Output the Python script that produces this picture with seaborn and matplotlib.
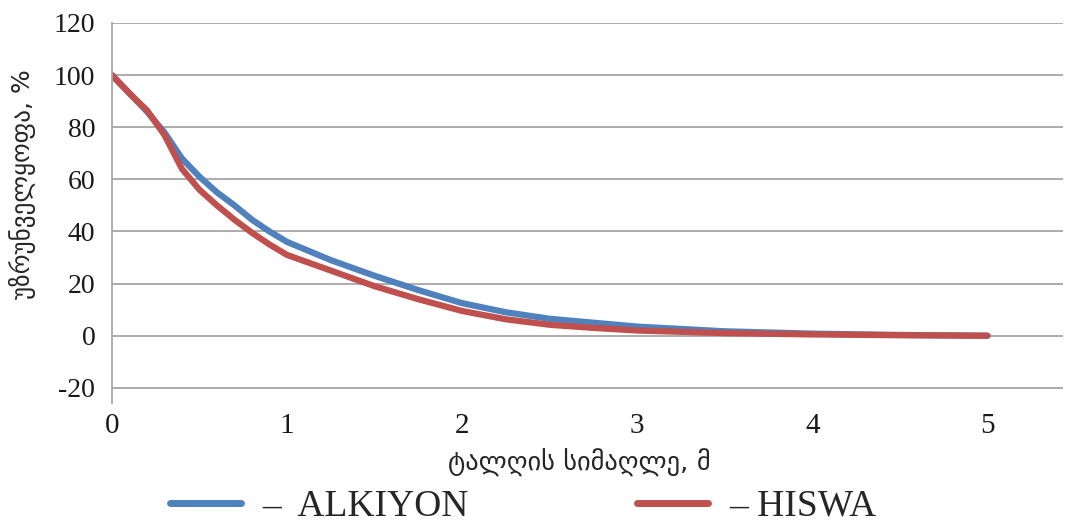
import numpy as np
import pandas as pd
import matplotlib
matplotlib.use("Agg")
import matplotlib.pyplot as plt
import seaborn as sns

# wave height (m) and supply (%)
height = [0, 0.1, 0.2, 0.3, 0.4, 0.5, 0.6, 0.7, 0.8, 0.9, 1, 1.25, 1.5, 1.75,
          2, 2.25, 2.5, 2.75, 3, 3.5, 4, 4.5, 5]
alkiyon = [100, 93, 86, 78, 68, 61, 55, 50, 44.5, 40, 36, 29, 23, 17.5,
           12.5, 9, 6.5, 5, 3.5, 1.7, 0.8, 0.3, 0]
hiswa = [100, 93, 86.5, 77, 64, 56, 50, 44.5, 39.5, 35, 31, 25, 19, 14,
         9.5, 6.3, 4.2, 3, 2, 1, 0.5, 0.2, 0]
series = ["–  ALKIYON", "– HISWA"]
colors = ["#4F81BD", "#C0504D"]

df = pd.concat([
    pd.DataFrame({"x": height, "y": alkiyon, "model": series[0]}),
    pd.DataFrame({"x": height, "y": hiswa, "model": series[1]}),
])

sns.set_style("white")
serif = ["Liberation Serif", "DejaVu Serif", "DejaVu Sans"]
plt.rcParams["font.family"] = serif
plt.rcParams["axes.unicode_minus"] = False

fig = plt.figure(figsize=(10.66, 5.22), dpi=100)
ax = fig.add_axes([0.105, 0.228, 0.892, 0.728])

sns.lineplot(data=df, x="x", y="y", hue="model", palette=colors,
             linewidth=4.5, ax=ax, legend=False, sort=False,
             solid_capstyle="round", solid_joinstyle="round")

ax.set_xlim(0, 5.43)
ax.set_ylim(-25.8, 120)
ax.set_yticks(range(-20, 121, 20))
ax.set_xticks(range(0, 6))
ax.yaxis.grid(True, color="#a6a6a6", linewidth=1.3)
ax.xaxis.grid(False)
for s in ["top", "right", "bottom"]:
    ax.spines[s].set_visible(False)
ax.spines["left"].set_color("#a6a6a6")
ax.spines["left"].set_linewidth(1.3)
ax.tick_params(axis="y", length=0, pad=12, labelsize=20, colors="#1a1a1a")
ax.tick_params(axis="x", length=0, pad=7, labelsize=21, colors="#1a1a1a")

ax.set_xlabel("ტალღის სიმაღლე, მ", fontsize=19, family=["DejaVu Sans"])
ax.xaxis.set_label_coords(0.492, -0.12)
ax.set_ylabel("უზრუნველყოფა, %", fontsize=18, family=["DejaVu Sans"])
ax.yaxis.set_label_coords(-0.08, 0.575)

handles = [plt.Line2D([], [], color=c, linewidth=5, solid_capstyle="round") for c in colors]
fig.legend(handles, series, loc="lower left", bbox_to_anchor=(0.128, -0.068), ncol=2,
           frameon=False, fontsize=27, handlelength=1.9, columnspacing=4.5,
           handletextpad=0.55)

fig.savefig("out.png", dpi=100)
